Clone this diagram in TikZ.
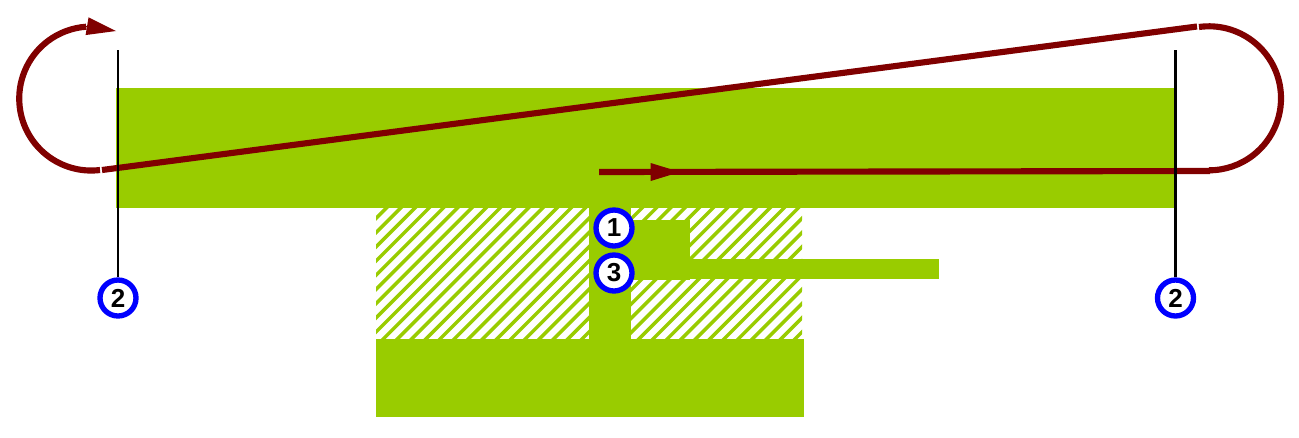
\documentclass[tikz,border=0pt]{standalone}
\usepackage{fontspec}
\setmainfont{Liberation Sans}
\usetikzlibrary{arrows.meta}
\definecolor{plategreen}{HTML}{99CC00}
\definecolor{looped}{HTML}{800000}
\tikzset{
	plate/.style={fill=plategreen},%
	hatchline/.style={plategreen,line width=2.6pt},%
	loopline/.style={looped,line width=4.6pt},%
	looptip/.style={looped,line width=0pt,-{Triangle[length=22pt,width=13.5pt]}},%
	probe/.style={black,line width=1.7pt},%
	badge/.style={circle,draw=blue,fill=white,line width=4pt,minimum size=27pt,inner sep=0pt,font=\fontsize{19.5}{20}\selectfont\bfseries},%
}
\def\looprad{54pt}
\begin{document}
\begin{tikzpicture}[x=0.75pt,y=-0.75pt]
		\useasboundingbox (0,0) rectangle (1299,437);
		% hatched ground
		\begin{scope}
			\clip (376,208) rectangle (589,339) (631,208) rectangle (802,339);
			\foreach \hi in {-24,...,16}
				\draw[hatchline] ({576+\hi*14.2},345) -- ++(150,-150);
		\end{scope}
		% plates
		\fill[plate] (116,88) rectangle (1174,208);
		\fill[plate] (376,339) rectangle (804,417);
		\fill[plate] (589,208) rectangle (631,339);
		\fill[plate] (631,220) rectangle (690,280);
		\fill[plate] (690,259) rectangle (939,279);
		% coordinates of the loop
		\coordinate (lefttop) at (86,26);
		\coordinate (lefttip) at (116,31);
		\coordinate (leftlow) at (100,170);
		\coordinate (slopestart) at (102,170);
		\coordinate (slopeend) at (1197,26.5);
		\coordinate (righttop) at (1199,27);
		\coordinate (rightlow) at (1210,171);
		\coordinate (feedstart) at (599,172);
		\coordinate (feedtip) at (680,172);
		% loop
		\draw[loopline] (leftlow) arc (-83:-266:\looprad);
		\draw[looptip] (lefttop) -- (lefttip);
		\draw[loopline] (slopestart) -- (slopeend);
		\draw[loopline] (righttop) arc (98:-90:\looprad);
		\draw[loopline] (feedstart) -- (rightlow);
		\draw[looptip] (feedstart) -- (feedtip);
		% badges
		\node[badge] (one) at (614,228) {1};
		\node[badge] (three) at (614,273) {3};
		\node[badge] (leftcut) at (118,298) {2};
		\node[badge] (rightcut) at (1175.5,298) {2};
		\coordinate (leftend) at (118,50);
		\coordinate (rightend) at (1175.5,50);
		\draw[probe] (leftend) -- (leftcut);
		\draw[probe] (rightend) -- (rightcut);
	\end{tikzpicture}
\end{document}
